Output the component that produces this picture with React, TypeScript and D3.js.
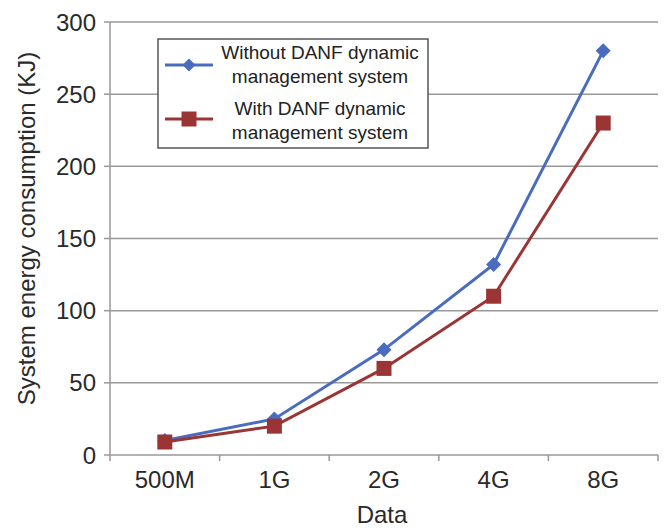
import React from "react";
import * as d3 from "d3";

const categories = ["500M", "1G", "2G", "4G", "8G"];
const withoutDanf = [10, 25, 73, 132, 280];
const withDanf = [9, 20, 60, 110, 230];
const yTicks = [0, 50, 100, 150, 200, 250, 300];
const seriesNames = ["Without DANF dynamic\nmanagement system", "With DANF dynamic\nmanagement system"];

const W = 670, H = 530;
const M = { left: 110, right: 12, top: 22, bottom: 75 };

export default function App() {
  const x = d3.scaleBand().domain(categories).range([M.left, W - M.right]);
  const y = d3.scaleLinear().domain([0, 300]).range([H - M.bottom, M.top]);
  const line = d3.line<number>().x((_, i) => x(categories[i])! + x.bandwidth() / 2).y((d) => y(d));
  const blue = "#4A6CBF";
  const red = "#9B3535";
  const font = "Liberation Sans, Arial, sans-serif";
  const boundaries = categories.map((c) => x(c)!).concat([W - M.right]);
  const tc = "#2a2a2a";
  return (
    <svg width={W} height={H} style={{ position: "absolute", left: 0, top: 0 }} fontFamily={font}>
      <rect width={W} height={H} fill="#fff" />
      {yTicks.map((t) => (
        <g key={t}>
          {t > 0 && <line x1={M.left} x2={W - M.right} y1={y(t)} y2={y(t)} stroke="#999" strokeWidth={1.5} />}
          <line x1={M.left - 6} x2={M.left} y1={y(t)} y2={y(t)} stroke="#999" strokeWidth={1.5} />
          <text x={M.left - 14} y={y(t)} dy="0.36em" textAnchor="end" fontSize={24} fill={tc}>{t}</text>
        </g>
      ))}
      <line x1={M.left} x2={M.left} y1={M.top} y2={y(0)} stroke="#999" strokeWidth={1.5} />
      <line x1={M.left} x2={W - M.right} y1={y(0)} y2={y(0)} stroke="#999" strokeWidth={1.5} />
      {boundaries.map((b, i) => (
        <line key={i} x1={b} x2={b} y1={y(0)} y2={y(0) + 6} stroke="#999" strokeWidth={1.5} />
      ))}
      {categories.map((c) => (
        <text key={c} x={x(c)! + x.bandwidth() / 2} y={y(0) + 33} textAnchor="middle" fontSize={24} fill={tc}>{c}</text>
      ))}
      <text x={382} y={523} textAnchor="middle" fontSize={24} fill={tc}>Data</text>
      <text transform={`translate(35, ${(M.top + y(0)) / 2 - 10}) rotate(-90)`} textAnchor="middle" fontSize={24} fill={tc}>System energy consumption (KJ)</text>

      <path d={line(withoutDanf)!} fill="none" stroke={blue} strokeWidth={3} />
      <path d={line(withDanf)!} fill="none" stroke={red} strokeWidth={3} />
      {withoutDanf.map((v, i) => {
        const cx = x(categories[i])! + x.bandwidth() / 2, cy = y(v);
        return <path key={i} d={`M${cx},${cy - 7.5}L${cx + 7.5},${cy}L${cx},${cy + 7.5}L${cx - 7.5},${cy}Z`} fill={blue} />;
      })}
      {withDanf.map((v, i) => {
        const cx = x(categories[i])! + x.bandwidth() / 2, cy = y(v);
        return <rect key={i} x={cx - 7.5} y={cy - 7.5} width={15} height={15} fill={red} />;
      })}

      <g>
        <rect x={158} y={39} width={270} height={109} fill="#fff" stroke="#555" strokeWidth={1.5} />
        {[blue, red].map((c, i) => {
          const cy = 65 + i * 54;
          const lines = seriesNames[i].split("\n");
          return (
            <g key={i}>
              <line x1={165} x2={213} y1={cy} y2={cy} stroke={c} strokeWidth={3} />
              {i === 0 ? (
                <path d={`M189,${cy - 6.5}L195.5,${cy}L189,${cy + 6.5}L182.5,${cy}Z`} fill={c} />
              ) : (
                <rect x={181.5} y={cy - 7.5} width={15} height={15} fill={c} />
              )}
              {lines.map((l, j) => (
                <text key={j} x={320} y={59 + i * 56 + j * 24} textAnchor="middle" fontSize={19} fill="#222">{l}</text>
              ))}
            </g>
          );
        })}
      </g>
    </svg>
  );
}
